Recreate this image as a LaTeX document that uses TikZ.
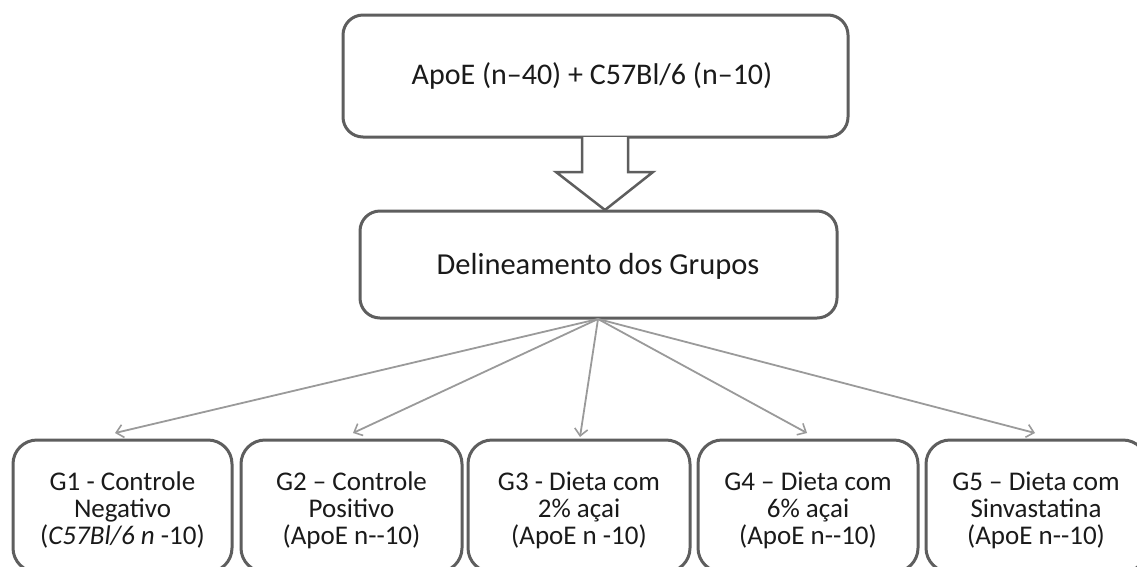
\documentclass[tikz,border=0pt]{standalone}
\usepackage{fontspec}
\setmainfont{Carlito}
\usetikzlibrary{arrows.meta}
\definecolor{bordc}{HTML}{5E5E5E}
\definecolor{linkc}{HTML}{9A9A9A}
\definecolor{txtc}{HTML}{1A1A1A}
\begin{document}
\begin{tikzpicture}[x=1pt,y=-1pt,
  bigbox/.style={draw=bordc,line width=3pt,rounded corners=20pt},
  grpbox/.style={draw=bordc,line width=3pt,rounded corners=24pt},
  bigtext/.style={text=txtc,font=\fontsize{30}{34}\selectfont},
  grptext/.style={align=center,text=txtc,font=\fontsize{27}{27}\selectfont},
  link/.style={draw=linkc,line width=1.8pt,-{Straight Barb[length=7pt,width=13pt,line width=1.6pt]}},
  blockarrow/.style={draw=bordc,line width=2.5pt,fill=white,line join=miter}]
\useasboundingbox (0,0) rectangle (1137,566);
\clip (0,0) rectangle (1137,566);
% top box
\path[bigbox] (343,15) rectangle (848,137);
\node[bigtext] (top) at (592,76) {ApoE (n–40) + C57Bl/6 (n–10)};
% middle box
\path[bigbox] (360,211) rectangle (837,318);
\node[bigtext,font=\fontsize{30.5}{34}\selectfont] (mid) at (598,266) {Delineamento dos Grupos};
\coordinate (midS) at (598,319);
% block arrow
\draw[blockarrow] (582,137) -- (582,172) -- (556,172) -- (605,210) -- (653,172) -- (628,172) -- (628,137);
% group boxes
\path[grpbox] (13,440) rectangle (232,572);
\path[grpbox] (241,440) rectangle (462,572);
\path[grpbox] (468,440) rectangle (690,572);
\path[grpbox] (698,440) rectangle (918,572);
\path[grpbox] (926,440) rectangle (1147,572);
\node[grptext] (g1) at (122.5,510) {G1 - Controle\\Negativo\\(\textit{C57Bl/6 n} -10)};
\node[grptext] (g2) at (351.5,510) {G2 – Controle\\Positivo\\(ApoE n-{}-10)};
\node[grptext] (g3) at (579,510) {G3 - Dieta com\\2\% açai\\(ApoE n -10)};
\node[grptext] (g4) at (808,510) {G4 – Dieta com\\6\% açai\\(ApoE n-{}-10)};
\node[grptext] (g5) at (1036,510) {G5 – Dieta com\\Sinvastatina\\(ApoE n-{}-10)};
\coordinate (t1) at (115,433);
\coordinate (t2) at (353,433);
\coordinate (t3) at (580,437);
\coordinate (t4) at (807,433);
\coordinate (t5) at (1035,433);
\foreach \t in {t1,t2,t3,t4,t5}{
  \draw[link] (midS) -- (\t);
}
\end{tikzpicture}
\end{document}
